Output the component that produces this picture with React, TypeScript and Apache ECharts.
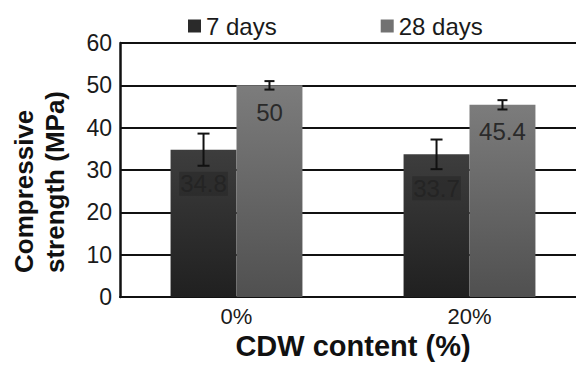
import React, { useEffect, useRef } from "react";
import * as echarts from "echarts";

const categories = ["0%", "20%"];
const seriesNames = ["7 days", "28 days"];
const days7 = [34.8, 33.7];
const days28 = [50, 45.4];
const err7 = [3.8, 3.5];
const err28 = [1.0, 1.1];
const yTicks = [0, 10, 20, 30, 40, 50, 60];
const yTitle = "Compressive\nstrength (MPa)";
const xTitle = "CDW content (%)";

const FONT = "Liberation Sans";
const BAR_FRAC = 0.283;

export default function App() {
  const ref = useRef<HTMLDivElement>(null);
  useEffect(() => {
    if (!ref.current) return;
    const chart = echarts.init(ref.current, undefined, { renderer: "svg" });

    const makeErr = (vals: number[], errs: number[], side: number, cap: number) => ({
      type: "custom",
      z: 10,
      silent: true,
      data: vals.map((v, i) => [i, v - errs[i], v + errs[i]]),
      renderItem: (params: any, api: any) => {
        const band = api.size([1, 0])[0];
        const off = side * band * BAR_FRAC / 2;
        const lo = api.coord([api.value(0), api.value(1)]);
        const hi = api.coord([api.value(0), api.value(2)]);
        const x = lo[0] + off;
        const st = { stroke: "#111", lineWidth: 2 };
        return {
          type: "group",
          children: [
            { type: "line", shape: { x1: x, y1: lo[1], x2: x, y2: hi[1] }, style: st },
            { type: "line", shape: { x1: x - cap, y1: lo[1], x2: x + cap, y2: lo[1] }, style: st },
            { type: "line", shape: { x1: x - cap, y1: hi[1], x2: x + cap, y2: hi[1] }, style: st },
          ],
        };
      },
    });

    chart.setOption({
      animation: false,
      textStyle: { fontFamily: FONT },
      legend: {
        top: 9,
        left: 183,
        itemGap: 104,
        itemWidth: 13,
        itemHeight: 13,
        icon: "rect",
        textStyle: { fontSize: 24, color: "#1a1a1a", fontFamily: FONT },
        data: [
          { name: seriesNames[0], itemStyle: { color: "#2a2a2a" } },
          { name: seriesNames[1], itemStyle: { color: "#727272" } },
        ],
      },
      graphic: [
        {
          type: "text",
          x: 39,
          y: 273,
          rotation: Math.PI / 2,
          style: {
            text: yTitle,
            fontSize: 26,
            fontWeight: "bold",
            fontFamily: FONT,
            fill: "#111",
            align: "left",
            verticalAlign: "middle",
            lineHeight: 31,
          },
        },
      ],
      grid: { left: 120, top: 43, bottom: 68, width: 466, containLabel: false, outerBoundsMode: "none" },
      xAxis: {
        type: "category",
        data: categories,
        axisLine: { show: true, lineStyle: { color: "#111", width: 2 } },
        axisTick: { show: false },
        axisLabel: { fontSize: 22, color: "#1a1a1a", margin: 8, fontFamily: FONT },
        name: xTitle,
        nameLocation: "middle",
        nameGap: 34,
        nameTextStyle: { fontSize: 29, fontWeight: "bold", color: "#111", fontFamily: FONT },
      },
      yAxis: {
        type: "value",
        min: yTicks[0],
        max: yTicks[yTicks.length - 1],
        interval: 10,
        axisLine: { show: true, lineStyle: { color: "#111", width: 2.5 } },
        axisTick: { show: false },
        splitLine: { show: true, lineStyle: { color: "#111", width: 2 } },
        axisLabel: { fontSize: 23, color: "#1a1a1a", margin: 8, fontFamily: FONT },
      },
      series: [
        {
          name: seriesNames[0],
          type: "bar",
          data: days7,
          barWidth: (BAR_FRAC * 100).toFixed(1) + "%",
          barGap: "0%",
          itemStyle: {
            color: new echarts.graphic.LinearGradient(0, 0, 0, 1, [
              { offset: 0, color: "#3d3d3d" },
              { offset: 1, color: "#202020" },
            ]),
          },
          label: {
            show: true,
            position: "insideTop",
            distance: 22,
            fontSize: 24,
            color: "#242424",
            backgroundColor: "rgba(38,38,38,0.55)",
            padding: [0, 1],
            fontFamily: FONT,
          },
        },
        {
          name: seriesNames[1],
          type: "bar",
          data: days28,
          barWidth: (BAR_FRAC * 100).toFixed(1) + "%",
          barGap: "0%",
          itemStyle: {
            color: new echarts.graphic.LinearGradient(0, 0, 0, 1, [
              { offset: 0, color: "#7c7c7c" },
              { offset: 1, color: "#505050" },
            ]),
          },
          label: {
            show: true,
            position: "insideTop",
            distance: 15,
            fontSize: 24,
            color: "#2a2a2a",
            fontFamily: FONT,
          },
        },
        makeErr(days7, err7, -1, 6),
        makeErr(days28, err28, 1, 5),
      ],
    });
    return () => chart.dispose();
  }, []);
  return <div ref={ref} style={{ width: 576, height: 365, position: "absolute", left: 0, top: 0, background: "#fff" }} />;
}
